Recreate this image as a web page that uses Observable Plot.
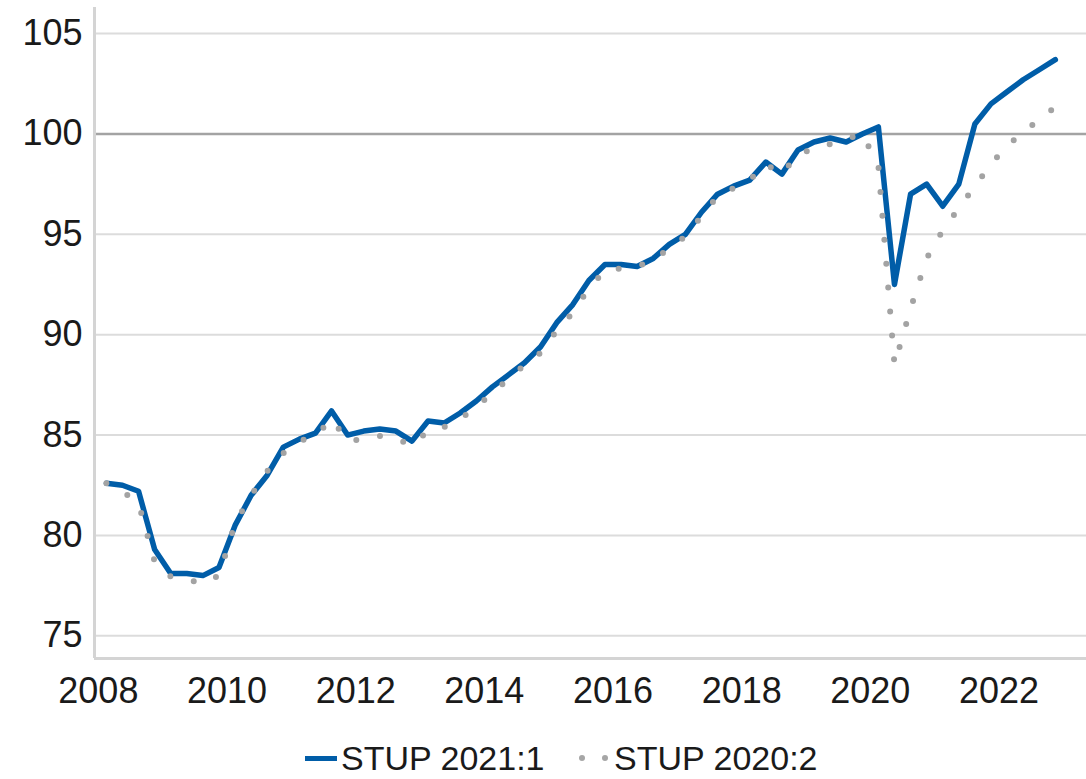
<!DOCTYPE html>
<html>
<head>
<meta charset="utf-8">
<script src="https://cdn.jsdelivr.net/npm/d3@7"></script>
<script src="https://cdn.jsdelivr.net/npm/@observablehq/plot@0.6"></script>
<style>
  html, body { margin: 0; padding: 0; background: #fff; }
  #wrap { position: relative; width: 1086px; height: 779px; overflow: hidden; }
  #chart svg text { font-size: 36px; fill: #1a1a1a; }
  #legend { position: absolute; left: 0; top: 740px; height: 36px; width: 1086px;
            font-family: "Liberation Sans", Arial, sans-serif; font-size: 34px; line-height: 36px; color: #1a1a1a; }
  .item { position: absolute; top: 0; height: 36px; display: flex; align-items: center; white-space: nowrap; }
  .sw-line { width: 32px; height: 5px; background: #005DA8; margin-right: 4px; }
  .sw-dots { width: 30px; height: 6px; margin-right: 6px; position: relative; }
  .sw-dots span { position: absolute; top: 0; width: 6px; height: 6px; border-radius: 3px; background: #a6a6a6; }
</style>
</head>
<body>
<div id="wrap">
  <div id="chart"></div>
  <div id="legend">
    <div class="item" style="left:305px"><div class="sw-line"></div><span>STUP 2021:1</span></div>
    <div class="item" style="left:578px"><div class="sw-dots"><span style="left:1px"></span><span style="left:24px"></span></div><span>STUP 2020:2</span></div>
  </div>
</div>
<script>
// Quarterly categories 2008Q1 .. 2022Q4
const years = [2008, 2009, 2010, 2011, 2012, 2013, 2014, 2015, 2016, 2017, 2018, 2019, 2020, 2021, 2022];
const quarterNums = [1, 2, 3, 4];
const xTicks = [2008, 2010, 2012, 2014, 2016, 2018, 2020, 2022];
const yTicks = [75, 80, 85, 90, 95, 100, 105];

// STUP 2021:1 (solid blue)
const stup2021 = [
  82.6, 82.5, 82.2, 79.3, 78.1, 78.1, 78.0, 78.4,
  80.5, 82.0, 83.0, 84.4, 84.8, 85.1, 86.2, 85.0,
  85.2, 85.3, 85.2, 84.7, 85.7, 85.6, 86.1, 86.7,
  87.4, 88.0, 88.6, 89.4, 90.6, 91.5, 92.7, 93.5,
  93.5, 93.4, 93.8, 94.5, 95.0, 96.1, 97.0, 97.4,
  97.7, 98.6, 98.0, 99.2, 99.6, 99.8, 99.6, 100.0,
  100.35, 92.5, 97.0, 97.5, 96.4, 97.5, 100.5, 101.5,
  102.1, 102.7, 103.2, 103.7
];

// STUP 2020:2 (grey dotted)
const stup2020 = [
  82.6, 82.2, 81.6, 78.7, 77.95, 77.8, 77.6, 78.0,
  80.6, 82.0, 83.2, 84.1, 84.7, 84.95, 85.8, 84.7,
  84.8, 84.95, 84.8, 84.5, 85.2, 85.4, 85.8, 86.4,
  87.1, 87.8, 88.5, 89.1, 90.2, 91.1, 92.3, 93.2,
  93.3, 93.4, 93.7, 94.3, 94.9, 95.9, 96.9, 97.3,
  97.7, 98.5, 98.0, 99.0, 99.25, 99.5, 99.75, 100.0,
  98.4, 88.5, 91.3, 93.8, 95.2, 96.3, 97.4, 98.5,
  99.4, 100.1, 100.7, 101.35
];

const quarters = years.flatMap(y => quarterNums.map(q => ({year: y, q})));
const pos = d => d.year + (d.q - 0.5) / 4;

const data2021 = quarters.map((d, i) => ({x: pos(d), v: stup2021[i]}));
const data2020 = quarters.map((d, i) => ({x: pos(d), v: stup2020[i]}));

const xMin = 2007.94, xMax = 2023.36;
const yMin = 73.87, yMax = 106.3;

const chart = Plot.plot({
  width: 1086,
  height: 720,
  marginLeft: 94,
  marginRight: 0,
  marginTop: 7,
  marginBottom: 62,
  style: {fontFamily: "Liberation Sans, Arial, sans-serif", fontSize: "36px", color: "#1a1a1a", background: "#fff", overflow: "visible"},
  x: {domain: [xMin, xMax], ticks: xTicks, tickFormat: d3.format("d"), tickSize: 0, tickPadding: 19, label: null},
  y: {domain: [yMin, yMax], ticks: yTicks, tickSize: 0, tickPadding: 12, label: null},
  marks: [
    Plot.ruleY(yTicks.filter(t => t !== 100), {stroke: "#dcdcdc", strokeWidth: 2}),
    Plot.ruleY([100], {stroke: "#a3a3a3", strokeWidth: 2.5}),
    Plot.ruleX([xMin], {stroke: "#d4d4d4", strokeWidth: 3}),
    Plot.ruleY([yMin], {stroke: "#d4d4d4", strokeWidth: 3}),
    Plot.line(data2021, {x: "x", y: "v", stroke: "#005DA8", strokeWidth: 5.5, strokeLinejoin: "round", strokeLinecap: "round"}),
    Plot.line(data2020, {x: "x", y: "v", stroke: "#a3a3a3", strokeWidth: 6, strokeDasharray: "0,24", strokeLinecap: "round"})
  ]
});
document.getElementById("chart").appendChild(chart);
</script>
</body>
</html>
